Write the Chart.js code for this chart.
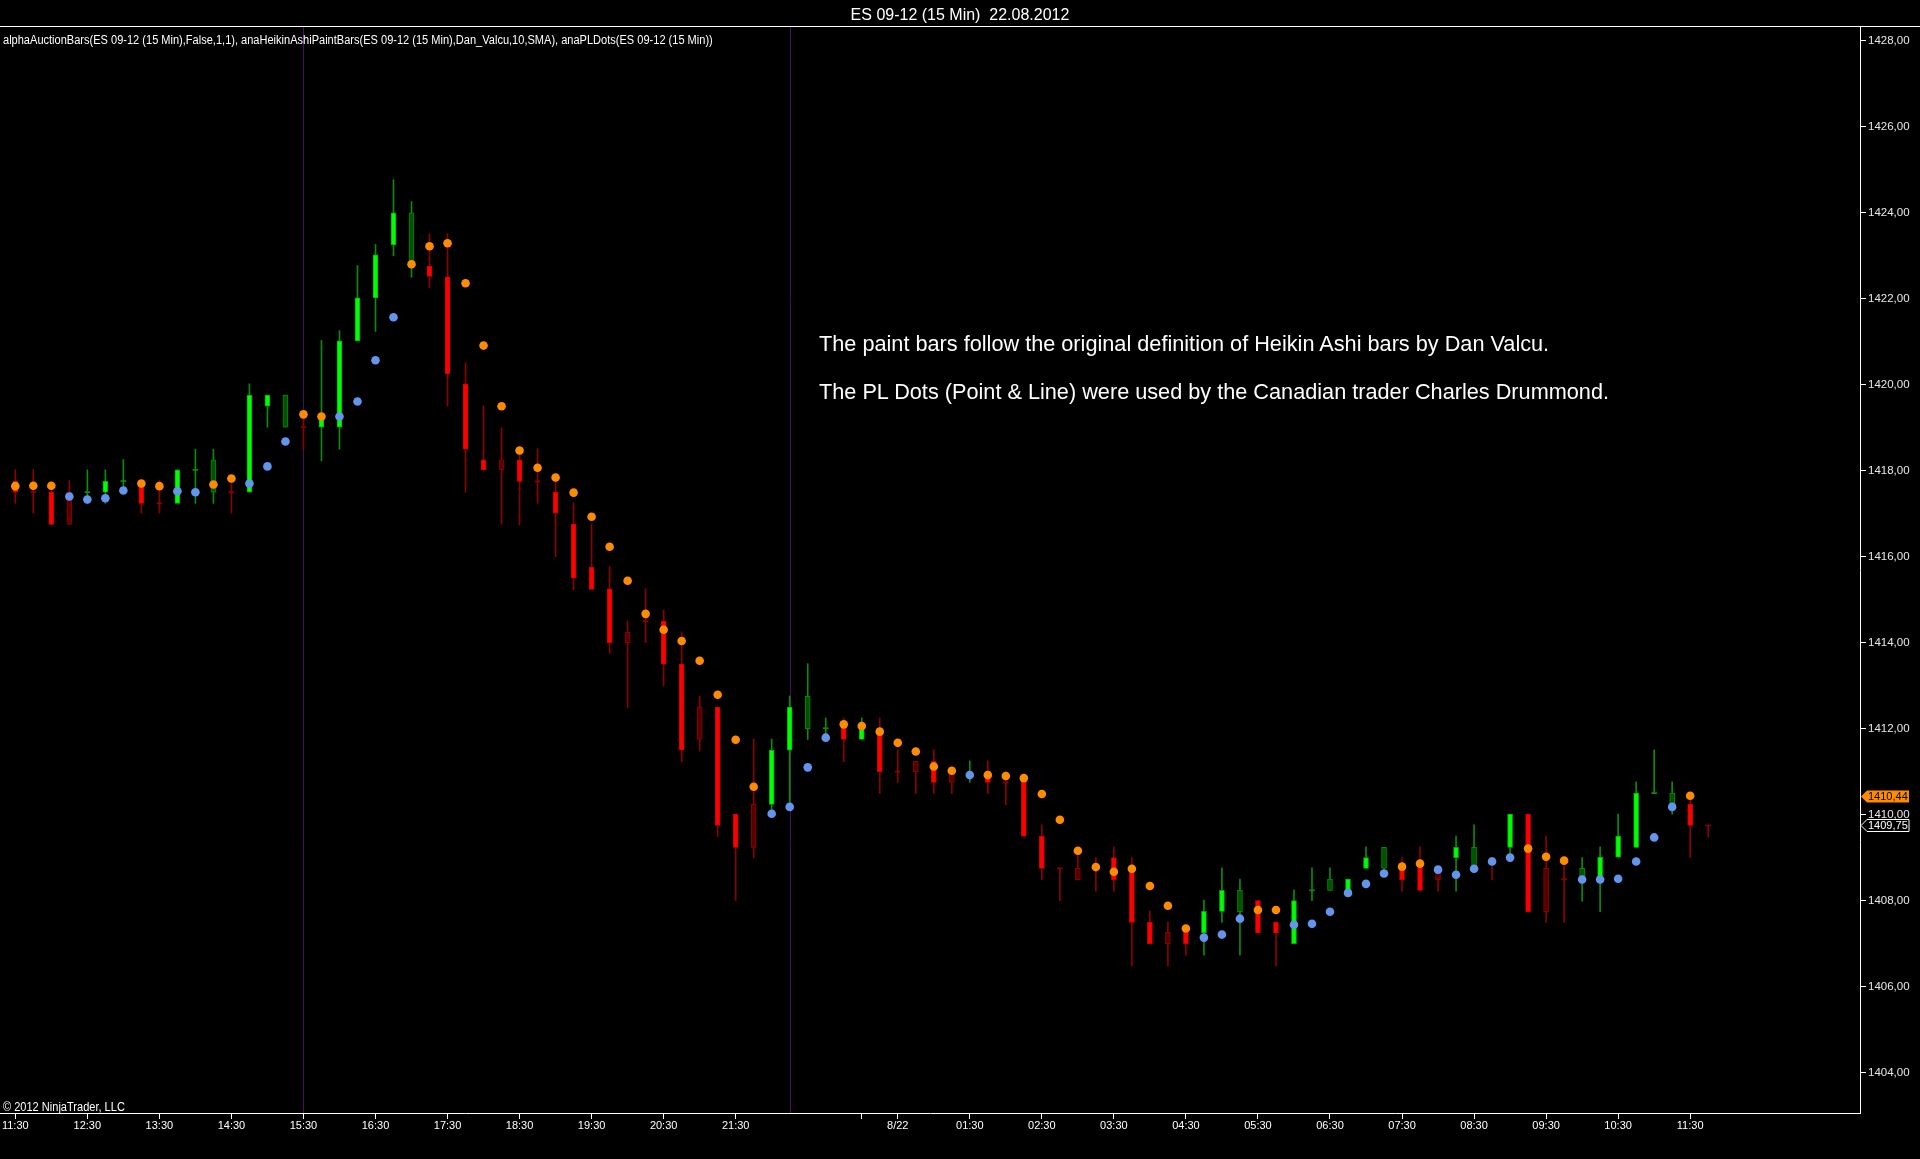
<!DOCTYPE html>
<html>
<head>
<meta charset="utf-8">
<title>ES 09-12 (15 Min) 22.08.2012</title>
<script src="https://cdn.jsdelivr.net/npm/chart.js@4.4.0/dist/chart.umd.min.js"></script>
<style>
  html, body { margin: 0; padding: 0; background: #000; overflow: hidden; }
  #wrap { position: relative; width: 1920px; height: 1159px; }
  #grafico { position: absolute; left: 0; top: 0; }
  .txt { position: absolute; color: #fff; white-space: nowrap; line-height: 1; }
  #titulo { left: 0; width: 1920px; text-align: center; top: 6px; font: 16px "Liberation Sans", Arial, sans-serif; }
  .estreito { font: 12px "Liberation Sans", Arial, sans-serif; transform: scaleX(0.92); transform-origin: 0 50%; }
  #indicadores { left: 3px; top: 33px; }
  #copyright { left: 3px; top: 1100px; }
  .nota { left: 819px; font: 21.7px "Liberation Sans", Arial, sans-serif; }
</style>
</head>
<body>
<div id="wrap">
  <canvas id="grafico" width="1920" height="1159"></canvas>
  <div class="txt" id="titulo">ES 09-12 (15 Min)&nbsp; 22.08.2012</div>
  <div class="txt estreito" id="indicadores">alphaAuctionBars(ES 09-12 (15 Min),False,1,1), anaHeikinAshiPaintBars(ES 09-12 (15 Min),Dan_Valcu,10,SMA), anaPLDots(ES 09-12 (15 Min))</div>
  <div class="txt estreito" id="copyright">© 2012 NinjaTrader, LLC</div>
  <div class="txt nota" style="top:331px">The paint bars follow the original definition of Heikin Ashi bars by Dan Valcu.</div>
  <div class="txt nota" style="top:379px">The PL Dots (Point &amp; Line) were used by the Canadian trader Charles Drummond.</div>
</div>

<script>
/* ───── dados (barras de 15 min, índice = posição da barra) ───── */

// Heikin Ashi: abertura, fechamento, máxima, mínima
const haOpen = [
  1417.75, 1417.50, 1417.50, 1417.50, 1417.50, 1417.50, 1417.76, 1417.76, 1417.24, 1417.24,
  1418.02, 1417.50, 1417.50, 1417.50, 1419.50, 1419.01, 1419.02, 1419.01, 1419.01, 1421.02,
  1422.02, 1423.25, 1422.80, 1422.76, 1422.51, 1420.02, 1418.25, 1418.25, 1418.25, 1417.75,
  1417.50, 1416.76, 1415.76, 1415.25, 1414.24, 1414.50, 1414.50, 1413.50, 1412.50, 1412.50,
  1410.01, 1410.24, 1410.24, 1411.50, 1412.00, 1412.01, 1412.01, 1411.75, 1412.00, 1411.00,
  1411.24, 1411.24, 1411.00, 1410.90, 1411.00, 1410.75, 1410.76, 1409.50, 1408.75, 1408.75,
  1408.75, 1409.00, 1408.74, 1407.50, 1407.26, 1407.26, 1407.25, 1407.75, 1407.74, 1408.00,
  1407.50, 1407.00, 1408.24, 1408.24, 1408.24, 1408.75, 1408.75, 1408.75, 1408.77, 1408.64,
  1409.00, 1408.75, 1409.00, 1409.24, 1410.01, 1408.75, 1408.50, 1408.49, 1408.49, 1409.01,
  1409.24, 1410.50, 1410.18, 1410.24, 1409.75
];
const haClose = [
  1417.50, 1417.50, 1416.75, 1416.75, 1417.50, 1417.76, 1417.76, 1417.24, 1417.24, 1418.02,
  1418.02, 1418.25, 1417.50, 1419.76, 1419.76, 1419.76, 1419.02, 1419.20, 1421.02, 1422.02,
  1423.02, 1424.00, 1424.00, 1422.52, 1420.25, 1418.50, 1418.02, 1418.02, 1417.75, 1417.75,
  1417.01, 1415.50, 1415.24, 1414.00, 1414.00, 1414.50, 1413.50, 1411.50, 1411.75, 1409.75,
  1409.24, 1409.24, 1411.50, 1412.50, 1412.75, 1412.01, 1411.75, 1412.01, 1411.00, 1411.00,
  1411.00, 1410.75, 1410.75, 1410.90, 1410.75, 1410.75, 1409.50, 1408.75, 1408.75, 1408.49,
  1408.75, 1408.49, 1407.49, 1407.00, 1407.00, 1407.00, 1407.75, 1408.24, 1408.24, 1407.25,
  1407.25, 1408.00, 1408.24, 1408.50, 1408.50, 1409.00, 1409.24, 1408.49, 1408.24, 1408.49,
  1409.24, 1409.24, 1408.90, 1410.01, 1407.74, 1407.74, 1408.50, 1408.75, 1409.01, 1409.50,
  1410.50, 1410.50, 1410.50, 1409.75, 1409.75
];
const haHigh = [
  1418.02, 1418.02, 1417.60, 1417.77, 1418.02, 1418.02, 1418.26, 1417.76, 1417.77, 1418.02,
  1418.50, 1418.50, 1417.82, 1420.02, 1419.76, 1419.76, 1419.40, 1421.03, 1421.26, 1422.77,
  1423.26, 1424.77, 1424.26, 1423.51, 1423.51, 1420.51, 1419.51, 1419.00, 1418.40, 1418.51,
  1417.75, 1417.25, 1416.76, 1415.77, 1414.51, 1415.25, 1414.76, 1414.25, 1412.76, 1412.50,
  1410.01, 1411.76, 1411.76, 1412.76, 1413.51, 1412.25, 1412.25, 1412.25, 1412.25, 1411.51,
  1411.24, 1411.51, 1411.00, 1411.25, 1411.25, 1411.00, 1410.90, 1409.76, 1408.75, 1409.08,
  1409.00, 1409.25, 1409.00, 1407.76, 1407.50, 1407.26, 1408.01, 1408.76, 1408.50, 1408.00,
  1407.50, 1408.25, 1408.76, 1408.76, 1408.50, 1409.25, 1409.24, 1409.00, 1409.25, 1408.75,
  1409.50, 1409.76, 1409.00, 1410.01, 1410.01, 1409.50, 1409.00, 1409.00, 1409.25, 1410.01,
  1410.76, 1411.51, 1410.76, 1410.44, 1409.75
];
const haLow = [
  1417.24, 1417.01, 1416.75, 1416.75, 1417.24, 1417.24, 1417.53, 1417.01, 1417.01, 1417.24,
  1417.24, 1417.24, 1417.01, 1417.50, 1419.01, 1419.01, 1418.50, 1418.23, 1418.50, 1421.02,
  1421.24, 1423.00, 1422.50, 1422.25, 1419.50, 1417.50, 1418.02, 1416.76, 1416.74, 1417.24,
  1416.00, 1415.23, 1415.24, 1413.75, 1412.49, 1414.00, 1413.00, 1411.23, 1411.48, 1409.49,
  1408.00, 1409.00, 1410.09, 1410.24, 1411.75, 1411.79, 1411.23, 1411.75, 1410.49, 1410.75,
  1410.49, 1410.49, 1410.49, 1410.75, 1410.49, 1410.23, 1409.50, 1408.49, 1408.00, 1408.49,
  1408.22, 1408.22, 1406.48, 1407.00, 1406.48, 1406.73, 1406.73, 1407.49, 1406.73, 1407.25,
  1406.48, 1407.00, 1408.00, 1408.24, 1408.24, 1408.75, 1408.75, 1408.22, 1408.24, 1408.22,
  1408.22, 1408.75, 1408.49, 1409.00, 1407.74, 1407.49, 1407.49, 1407.99, 1407.74, 1409.01,
  1409.24, 1410.50, 1410.01, 1409.00, 1409.48
];
// tom da barra: G = alta forte, g = alta fraca, R = baixa forte, r = baixa fraca
const barTone = [
  'R','r','R','r','g','G','g','R','r','G',
  'g','g','r','G','G','g','r','G','G','G',
  'G','G','g','R','R','R','R','r','R','r',
  'R','R','R','R','r','r','R','R','r','R',
  'R','r','G','G','g','g','R','G','R','r',
  'r','R','r','g','R','r','R','R','r','r',
  'r','R','R','R','r','R','G','G','g','R',
  'R','G','g','g','G','G','g','R','R','r',
  'G','g','R','G','R','r','r','g','G','G',
  'G','g','g','R','r'
];

// PL Dots: valor e lado (B = azul, O = laranja)
const plDot = [
  1417.64, 1417.65, 1417.65, 1417.40, 1417.33, 1417.36, 1417.54, 1417.70, 1417.64, 1417.52,
  1417.50, 1417.68, 1417.82, 1417.70, 1418.10, 1418.68, 1419.31, 1419.26, 1419.26, 1419.61,
  1420.57, 1421.57, 1422.80, 1423.22, 1423.29, 1422.36, 1420.91, 1419.50, 1418.47, 1418.07,
  1417.84, 1417.49, 1416.93, 1416.23, 1415.44, 1414.67, 1414.30, 1414.04, 1413.58, 1412.79,
  1411.74, 1410.65, 1410.02, 1410.18, 1411.10, 1411.79, 1412.10, 1412.06, 1411.93, 1411.67,
  1411.47, 1411.12, 1411.02, 1410.92, 1410.92, 1410.90, 1410.85, 1410.48, 1409.88, 1409.16,
  1408.78, 1408.67, 1408.74, 1408.34, 1407.88, 1407.35, 1407.14, 1407.21, 1407.58, 1407.78,
  1407.78, 1407.44, 1407.46, 1407.74, 1408.18, 1408.39, 1408.63, 1408.79, 1408.86, 1408.72,
  1408.60, 1408.74, 1408.91, 1409.00, 1409.21, 1409.02, 1408.93, 1408.49, 1408.49, 1408.51,
  1408.91, 1409.47, 1410.18, 1410.44, null
];
const plTone = [
  'O','O','O','B','B','B','B','O','O','B',
  'B','O','O','B','B','B','O','O','B','B',
  'B','B','O','O','O','O','O','O','O','O',
  'O','O','O','O','O','O','O','O','O','O',
  'O','O','B','B','B','B','O','O','O','O',
  'O','O','O','B','O','O','O','O','O','O',
  'O','O','O','O','O','O','B','B','B','O',
  'O','B','B','B','B','B','B','O','O','B',
  'B','B','B','B','O','O','O','B','B','B',
  'B','B','B','O', null
];

// eixo do tempo
const xTickPos  = [0, 4, 8, 12, 16, 20, 24, 28, 32, 36, 40, 47, 49, 53, 57, 61, 65, 69, 73, 77, 81, 85, 89, 93];
const xTickText = ['11:30', '12:30', '13:30', '14:30', '15:30', '16:30', '17:30', '18:30', '19:30', '20:30', '21:30', '',
                   '8/22', '01:30', '02:30', '03:30', '04:30', '05:30', '06:30', '07:30', '08:30', '09:30', '10:30', '11:30'];
const sessionBreaks = [16, 43];

// eixo de preço
const yTicks = [1404, 1406, 1408, 1410, 1412, 1414, 1416, 1418, 1420, 1422, 1424, 1426, 1428];
const priceTags = [1410.44, 1409.75]; // último PL Dot, último fechamento

/* ───── cores ───── */
const CORES = {
  G: { fill: '#00ff00', borda: '#00b000', pavio: '#0b8a0b' },
  g: { fill: '#005200', borda: '#008c00', pavio: '#0b8a0b' },
  R: { fill: '#ff0000', borda: '#c80000', pavio: '#8b0000' },
  r: { fill: '#580000', borda: '#8b0000', pavio: '#8b0000' }
};
const COR_DOT = { B: '#6495ed', O: '#ff8c00' };

const fmt = v => v.toFixed(2).replace('.', ',');

/* ───── montar datasets ───── */
const idx = haOpen.map((_, i) => i);

const pavios = idx.map(i => ({ x: i, y: [haLow[i], haHigh[i]] }));
const ehDoji = idx.map(i => Math.abs(haOpen[i] - haClose[i]) < 0.02);
const corpos = idx.map(i => {
  const a = Math.min(haOpen[i], haClose[i]);
  const b = Math.max(haOpen[i], haClose[i]);
  if (ehDoji[i]) return { x: i, y: [a - 0.012, a + 0.012] }; // doji → traço
  return { x: i, y: [a, b] };
});

const comDot = idx.filter(i => plDot[i] !== null);
const dots = comDot.map(i => ({ x: i, y: plDot[i] }));
const dotCores = comDot.map(i => COR_DOT[plTone[i]]);

/* ───── plugins ───── */
const molduraPlugin = {
  id: 'moldura',
  beforeDatasetsDraw(chart) {
    const { ctx, chartArea, scales } = chart;
    ctx.save();
    ctx.strokeStyle = '#48105c';
    ctx.lineWidth = 1;
    sessionBreaks.forEach(b => {
      const x = Math.round(scales.x.getPixelForValue(b)) + 0.5;
      ctx.beginPath();
      ctx.moveTo(x, chartArea.top);
      ctx.lineTo(x, chartArea.bottom);
      ctx.stroke();
    });
    ctx.restore();
  },
  afterDraw(chart) {
    const { ctx, chartArea, scales } = chart;
    ctx.save();
    // linha branca superior
    ctx.strokeStyle = '#ffffff';
    ctx.lineWidth = 1;
    ctx.beginPath();
    ctx.moveTo(0, chartArea.top - 0.5);
    ctx.lineTo(chart.width, chartArea.top - 0.5);
    ctx.stroke();

    // etiquetas de preço no eixo direito
    ctx.font = '11px "Liberation Sans", Arial, sans-serif';
    ctx.textBaseline = 'middle';
    priceTags.forEach((v, k) => {
      const y = Math.round(scales.y.getPixelForValue(v)) + 0.5;
      const x0 = chartArea.right + 1;
      const x1 = x0 + 6;
      const x2 = x0 + 48;
      const h = 6;
      ctx.beginPath();
      ctx.moveTo(x0, y);
      ctx.lineTo(x1, y - h);
      ctx.lineTo(x2, y - h);
      ctx.lineTo(x2, y + h);
      ctx.lineTo(x1, y + h);
      ctx.closePath();
      if (k === 0) {
        ctx.fillStyle = '#ff8c00';
        ctx.fill();
        ctx.fillStyle = '#000';
      } else {
        ctx.fillStyle = '#000';
        ctx.fill();
        ctx.strokeStyle = '#ffffff';
        ctx.stroke();
        ctx.fillStyle = '#fff';
      }
      ctx.fillText(fmt(v), x1 + 1, y + 0.5);
    });
    ctx.restore();
  }
};

/* ───── gráfico ───── */
const ctx = document.getElementById('grafico').getContext('2d');
new Chart(ctx, {
  type: 'bar',
  data: {
    datasets: [
      {
        type: 'scatter',
        data: dots,
        pointStyle: 'circle',
        pointRadius: 4.3,
        pointBorderWidth: 0,
        pointBackgroundColor: dotCores,
        order: 1
      },
      {
        data: corpos,
        barThickness: 5,
        grouped: false,
        borderWidth: idx.map(i => ehDoji[i] ? 0 : 1),
        borderSkipped: false,
        backgroundColor: idx.map(i => ehDoji[i] ? CORES[barTone[i]].pavio : CORES[barTone[i]].fill),
        borderColor: idx.map(i => CORES[barTone[i]].borda),
        order: 2
      },
      {
        data: pavios,
        barThickness: 1,
        grouped: false,
        borderWidth: 0,
        backgroundColor: idx.map(i => CORES[barTone[i]].pavio),
        order: 3
      }
    ]
  },
  options: {
    responsive: false,
    animation: false,
    devicePixelRatio: 1,
    layout: { autoPadding: false, padding: { top: 27, left: 0, right: 0, bottom: 0 } },
    plugins: {
      legend: { display: false },
      title: { display: false },
      tooltip: { enabled: false }
    },
    scales: {
      x: {
        type: 'linear',
        offset: false,
        min: -0.85,
        max: 102.43,
        afterBuildTicks: s => { s.ticks = xTickPos.map(v => ({ value: v })); },
        afterFit: s => { s.height = 46; s.paddingLeft = 0; s.paddingRight = 0; },
        grid: { drawOnChartArea: false, drawTicks: true, tickLength: 6, color: '#ffffff', offset: false },
        border: { display: true, color: '#ffffff', width: 1 },
        ticks: {
          autoSkip: false,
          maxRotation: 0,
          padding: 0,
          color: '#ffffff',
          font: { family: '"Liberation Sans", Arial, sans-serif', size: 11 },
          callback: (v, i) => xTickText[i]
        }
      },
      y: {
        type: 'linear',
        position: 'right',
        min: 1403.06,
        max: 1428.32,
        beginAtZero: false,
        afterBuildTicks: s => { s.ticks = yTicks.map(v => ({ value: v })); },
        afterFit: s => { s.width = 60; s.paddingTop = 0; s.paddingBottom = 0; },
        grid: { drawOnChartArea: false, drawTicks: true, tickLength: 6, color: '#ffffff' },
        border: { display: true, color: '#ffffff', width: 1 },
        ticks: {
          padding: 2,
          color: '#e8e8e8',
          font: { family: '"Liberation Sans", Arial, sans-serif', size: 11.5 },
          callback: v => fmt(v)
        }
      }
    }
  },
  plugins: [molduraPlugin]
});
</script>
</body>
</html>
